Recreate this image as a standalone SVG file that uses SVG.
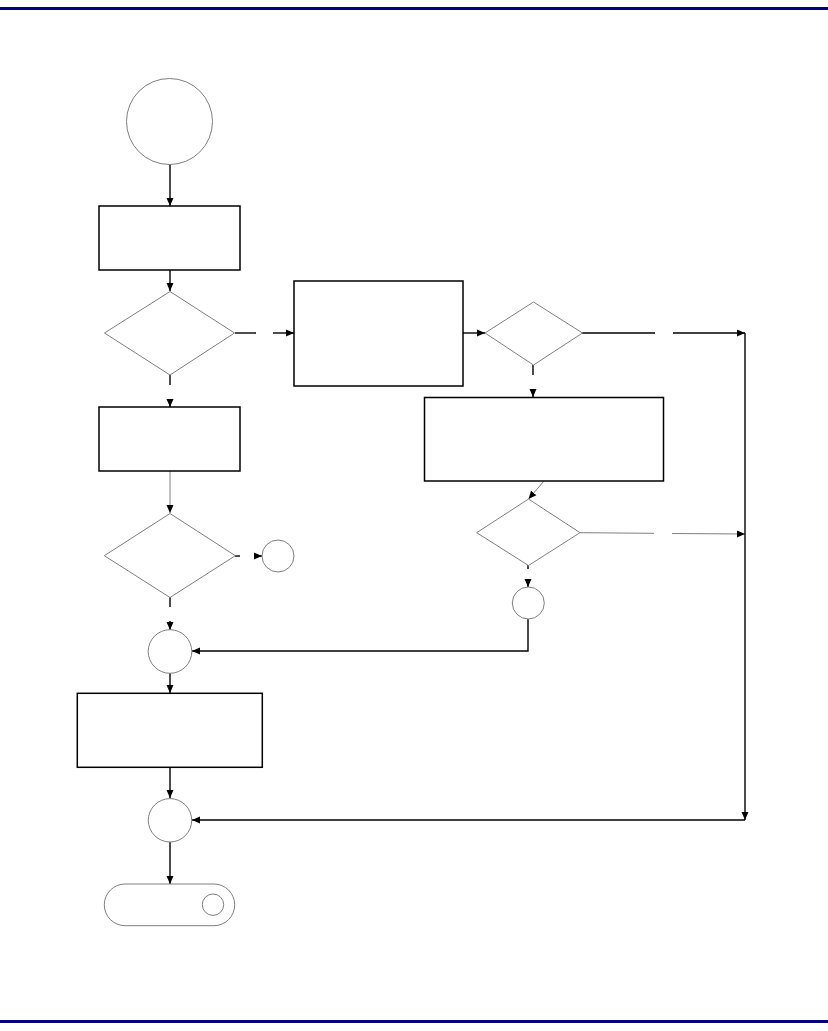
<svg xmlns="http://www.w3.org/2000/svg" width="828" height="1031" viewBox="0 0 828 1031">
<style>
.rule{fill:#000080}
.box{fill:#fff;stroke:#000;stroke-width:1.5}
.soft{fill:#fff;stroke:#808080;stroke-width:1}
.ln{fill:none;stroke:#000;stroke-width:1.4}
.lg{fill:none;stroke:#808080;stroke-width:1}
</style>
<defs>
<marker id="ah" viewBox="0 0 8 8" refX="8" refY="4" markerWidth="8" markerHeight="8" markerUnits="userSpaceOnUse" orient="auto">
<path d="M0,0.5 L8,4 L0,7.5 Z" fill="#000"/>
</marker>
</defs>
<rect class="rule" x="0" y="7" width="828" height="3"/>
<rect class="rule" x="0" y="1020" width="828" height="3"/>
<g id="connectors">
<line class="ln" x1="170" y1="164" x2="170" y2="206" marker-end="url(#ah)"/>
<line class="ln" x1="170" y1="270" x2="170" y2="291" marker-end="url(#ah)"/>
<line class="ln" x1="170" y1="375" x2="170" y2="385"/>
<line class="ln" x1="170" y1="399" x2="170" y2="407" marker-end="url(#ah)"/>
<line class="ln" x1="235" y1="333" x2="256" y2="333"/>
<line class="ln" x1="273" y1="333" x2="294" y2="333" marker-end="url(#ah)"/>
<line class="ln" x1="463" y1="333" x2="485" y2="333" marker-end="url(#ah)"/>
<line class="ln" x1="582" y1="333" x2="655" y2="333"/>
<line class="ln" x1="673" y1="333" x2="745" y2="333" marker-end="url(#ah)"/>
<line class="ln" x1="533" y1="365" x2="533" y2="375"/>
<line class="ln" x1="533" y1="389" x2="533" y2="397" marker-end="url(#ah)"/>
<line class="lg" x1="544" y1="481" x2="528.5" y2="499" marker-end="url(#ah)"/>
<line class="lg" x1="580" y1="532.7" x2="654" y2="533.3"/>
<line class="lg" x1="672" y1="533.5" x2="745" y2="534" marker-end="url(#ah)"/>
<line class="ln" x1="528" y1="565" x2="528" y2="569"/>
<line class="ln" x1="528" y1="582" x2="528" y2="587" marker-end="url(#ah)"/>
<polyline class="ln" points="528,619 528,651 192,651" marker-end="url(#ah)"/>
<line class="lg" x1="170" y1="471" x2="170" y2="513" marker-end="url(#ah)"/>
<line class="ln" x1="235" y1="556" x2="240" y2="556"/>
<line class="ln" x1="255" y1="556" x2="262" y2="556" marker-end="url(#ah)"/>
<line class="ln" x1="170" y1="597" x2="170" y2="607"/>
<line class="ln" x1="170" y1="621" x2="170" y2="630" marker-end="url(#ah)"/>
<line class="ln" x1="170" y1="673" x2="170" y2="693" marker-end="url(#ah)"/>
<line class="ln" x1="170" y1="767" x2="170" y2="798" marker-end="url(#ah)"/>
<line class="ln" x1="745" y1="333" x2="745" y2="820" marker-end="url(#ah)"/>
<line class="ln" x1="745" y1="820" x2="192" y2="820" marker-end="url(#ah)"/>
<line class="ln" x1="170" y1="842" x2="170" y2="884" marker-end="url(#ah)"/>
</g>
<g id="start"><circle class="soft" cx="169.5" cy="121.5" r="43"/></g>
<g id="process1"><rect class="box" x="99" y="206" width="141" height="64"/></g>
<g id="decision1"><polygon class="soft" points="170,291.5 234.5,333 170,375 104.5,333"/></g>
<g id="process2"><rect class="box" x="99" y="407" width="141" height="64"/></g>
<g id="process3"><rect class="box" x="294" y="281" width="169" height="105"/></g>
<g id="decision2"><polygon class="soft" points="533.5,302 582.5,333 533.5,365 485,333"/></g>
<g id="process4"><rect class="box" x="424.5" y="397.5" width="239" height="83.5"/></g>
<g id="decision3"><polygon class="soft" points="528.5,499 580,532.7 528.5,565.5 476.7,532.7"/></g>
<g id="connector-c"><circle class="soft" cx="528.3" cy="603" r="16"/></g>
<g id="decision4"><polygon class="soft" points="170,513.5 235.3,555.7 170,597.5 104.3,555.7"/></g>
<g id="connector-b"><circle class="soft" cx="278" cy="556" r="16"/></g>
<g id="connector-a"><circle class="soft" cx="170" cy="651.5" r="21.8"/></g>
<g id="process5"><rect class="box" x="77.3" y="693.3" width="185" height="74"/></g>
<g id="connector-d"><circle class="soft" cx="170" cy="820.3" r="21.7"/></g>
<g id="end"><rect class="soft" x="104.3" y="884" width="130.4" height="41.7" rx="20.8" ry="20.8"/><circle class="soft" cx="213" cy="904.7" r="10.7"/></g>
</svg>
